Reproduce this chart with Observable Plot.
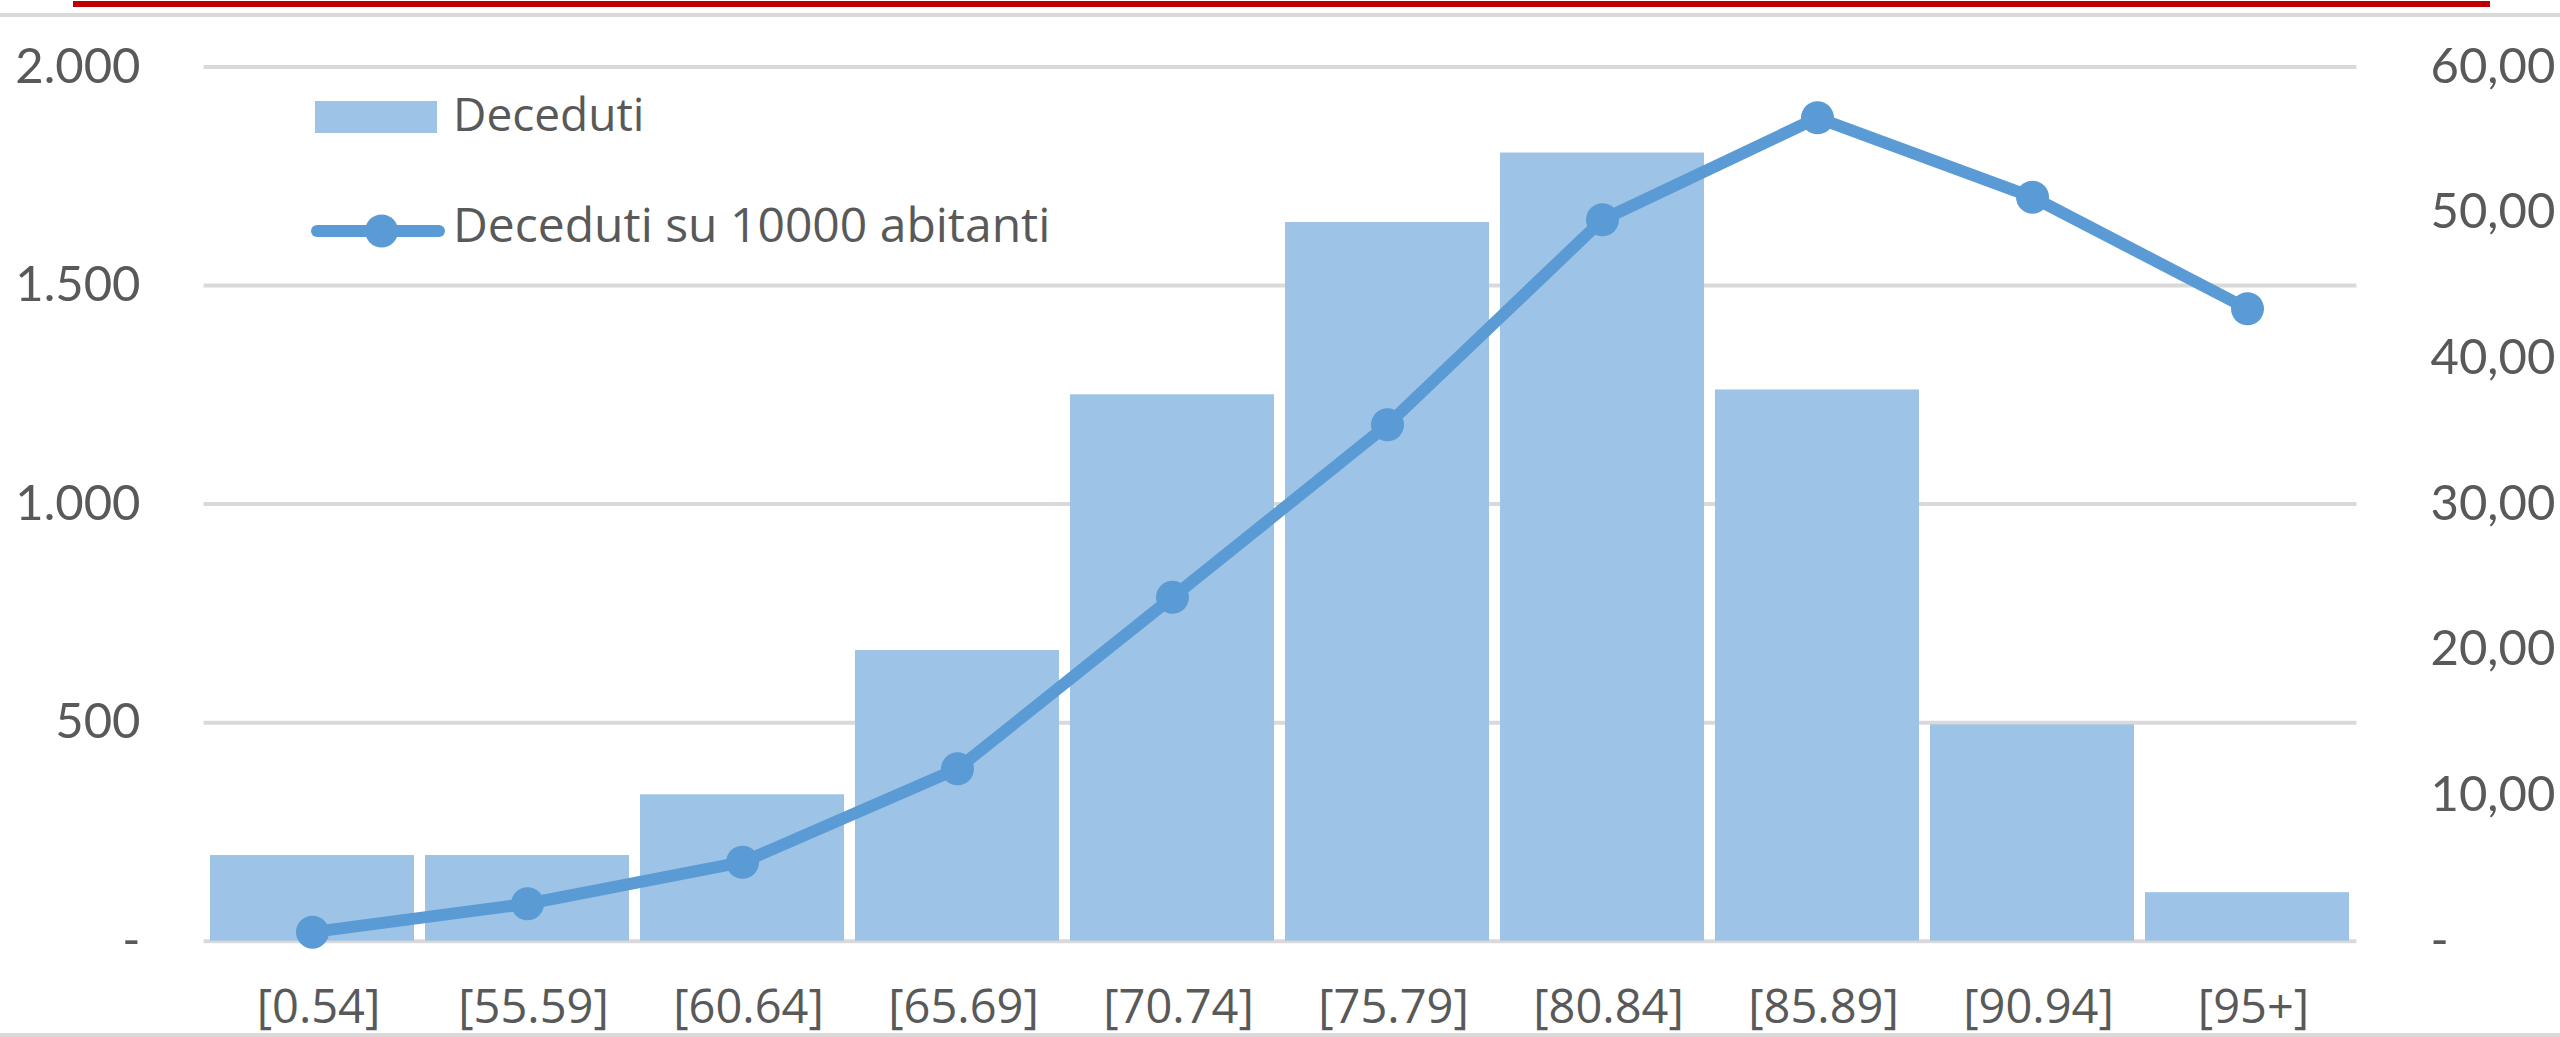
<!DOCTYPE html>
<html>
<head>
<meta charset="utf-8">
<script src="https://cdn.jsdelivr.net/npm/d3@7"></script>
<script src="https://cdn.jsdelivr.net/npm/@observablehq/plot@0.6"></script>
<style>
  html, body { margin: 0; padding: 0; background: #fff; }
  #wrap { position: relative; width: 2560px; height: 1037px; overflow: hidden; background: #fff; }
  #chart { position: absolute; left: 0; top: 0; }
  .redbar { position: absolute; left: 73px; top: 1px; width: 2417px; height: 6px; background: #C00000; }
  .grayTop { position: absolute; left: 0; top: 13px; width: 2560px; height: 4px; background: #d9d9d9; }
  .grayBot { position: absolute; left: 0; top: 1033px; width: 2560px; height: 4px; background: #d9d9d9; }
  #legend { position: absolute; left: 0; top: 0; }
</style>
</head>
<body>
<div id="wrap">
  <div id="chart"></div>
  <svg id="legend" width="1200" height="300"></svg>
  <div class="redbar"></div>
  <div class="grayTop"></div>
  <div class="grayBot"></div>
</div>
<script>
// ---- data ----
const categories = ["[0.54]", "[55.59]", "[60.64]", "[65.69]", "[70.74]", "[75.79]", "[80.84]", "[85.89]", "[90.94]", "[95+]"];
const deceduti = [196, 196, 335, 665, 1250, 1644, 1803, 1261, 495, 111];
const decedutiPer10000 = [0.62, 2.57, 5.42, 11.83, 23.6, 35.44, 49.51, 56.51, 51.06, 43.40];
const leftTicks = [0, 500, 1000, 1500, 2000];
const rightTicks = [0, 10, 20, 30, 40, 50, 60];
const leftMax = 2000;
const rightMax = 60;
const seriesNames = ["Deceduti", "Deceduti su 10000 abitanti"];

const barColor = "#9DC3E6";
const lineColor = "#5B9BD5";
const textColor = "#595959";
const gridColor = "#d9d9d9";

const toLeft = v => v * leftMax / rightMax;
const data = categories.map((c, i) => ({cat: c, d: deceduti[i], r: decedutiPer10000[i], rs: toLeft(decedutiPer10000[i])}));

const fmtLeft = v => v === 0 ? "-" : d3.format(",")(v).replace(/,/g, ".");
const fmtRight = v => { const r = Math.round(v * rightMax / leftMax * 100) / 100; return r === 0 ? "-" : r.toFixed(2).replace(".", ","); };

const W = 2560, H = 1037;
const mL = 203.6, mR = W - 2356.4, mT = 66.4, mB = H - 940.7;

const chart = Plot.plot({
  width: W,
  height: H,
  marginLeft: mL,
  marginRight: mR,
  marginTop: mT,
  marginBottom: mB,
  style: {background: "transparent", color: textColor, overflow: "visible"},
  x: {domain: categories, paddingInner: 0.05, paddingOuter: 0.025, axis: null, label: null},
  y: {domain: [0, leftMax], axis: null, label: null},
  marks: [
    Plot.ruleY(leftTicks, {stroke: gridColor, strokeWidth: 4}),
    Plot.barY(data, {x: "cat", y: "d", fill: barColor}),
    Plot.line(data, {x: "cat", y: "rs", stroke: lineColor, strokeWidth: 12, strokeLinejoin: "round", strokeLinecap: "round"}),
    Plot.dot(data, {x: "cat", y: "rs", r: 16.5, fill: lineColor, stroke: null}),
    Plot.axisY(leftTicks, {anchor: "left", label: null, tickSize: 0, tickPadding: mL - 140, tickFormat: fmtLeft, fontSize: 49, fontFamily: "Lato", fill: textColor}),
    Plot.axisY(rightTicks.map(toLeft), {anchor: "right", label: null, tickSize: 0, tickPadding: 2430 - (W - mR), tickFormat: fmtRight, fontSize: 49, fontFamily: "Lato", fill: textColor}),
    Plot.axisX({anchor: "bottom", label: null, tickSize: 0, tickPadding: 48, fontSize: 47, fontFamily: "Open Sans", fill: textColor, dx: 6})
  ]
});
document.getElementById("chart").appendChild(chart);

// ---- legend ----
const lg = d3.select("#legend");
lg.append("rect").attr("x", 315).attr("y", 101).attr("width", 122).attr("height", 32).attr("fill", barColor);
lg.append("text").attr("x", 453).attr("y", 131).attr("font-family", "Open Sans").attr("font-size", 46).attr("fill", textColor).text(seriesNames[0]);
lg.append("line").attr("x1", 317).attr("x2", 439).attr("y1", 231).attr("y2", 231).attr("stroke", lineColor).attr("stroke-width", 12).attr("stroke-linecap", "round");
lg.append("circle").attr("cx", 381.6).attr("cy", 231).attr("r", 16.5).attr("fill", lineColor);
lg.append("text").attr("x", 453).attr("y", 242).attr("font-family", "Open Sans").attr("font-size", 48).attr("fill", textColor).text(seriesNames[1]);
</script>
</body>
</html>
